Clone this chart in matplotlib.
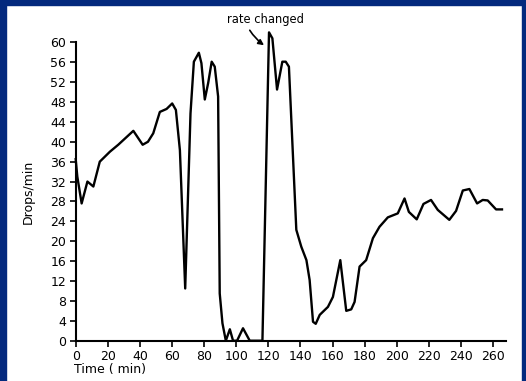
import matplotlib.pyplot as plt
from matplotlib.patches import Rectangle

# values
time_min = [0, 1, 3.7, 7.3, 11, 15, 21.3, 26.5, 35.9, 41.7, 45, 48.3, 52.4,
            56.6, 60.1, 62.4, 64.9, 68.2, 71.5, 73.6, 76.7, 78.3, 80.4, 82.5,
            84.7, 86.6, 88.7, 89.7, 91.4, 93.5, 96, 98, 100.5, 104.2, 108.4,
            116.3, 120.4, 122.5, 125.4, 128.7, 130.8, 132.8, 137.4, 140.5,
            143.7, 145.7, 147.8, 149.5, 152, 157.1, 160.2, 164.8, 168.5,
            171.6, 173.7, 176.8, 180.9, 185.1, 189.2, 194.4, 200.6, 204.8,
            207.5, 212.4, 216.6, 221.3, 225.5, 232.7, 236.9, 241.1, 245.2,
            250, 253.5, 256.6, 261.8, 265.5]
drops = [36.5, 33, 27.6, 32, 31, 36, 38, 39.4, 42.2, 39.4, 40, 41.7, 46,
         46.6, 47.7, 46.4, 38.3, 10.5, 45.7, 56.1, 57.9, 55.8, 48.5, 51.8,
         56.1, 55.1, 49.1, 9.5, 3.5, 0, 2.3, 0, 0, 2.5, 0,
         0, 62, 60.8, 50.5, 56.1, 56.1, 55.1, 22.3, 18.9,
         16.2, 12.2, 3.8, 3.4, 5.2, 6.8, 8.8, 16.2, 6,
         6.3, 7.8, 14.9, 16.2, 20.6, 22.9, 24.8, 25.6, 28.6,
         25.9, 24.4, 27.5, 28.3, 26.3, 24.3, 26.1, 30.2, 30.5,
         27.6, 28.3, 28.2, 26.4, 26.4]

x_ticks = list(range(0, 261, 20))
y_ticks = list(range(0, 61, 4))

W, H = 526, 381
fig = plt.figure(figsize=(W / 100, H / 100), dpi=100)
fig.patch.set_facecolor('white')

# dark blue frame of the slide
blue = '#03297d'
fig.patches.append(Rectangle((0, 0), 6 / W, 1, transform=fig.transFigure,
                             color=blue, zorder=-1))
fig.patches.append(Rectangle((0, 1 - 5 / H), 1, 5 / H, transform=fig.transFigure,
                             color=blue, zorder=-1))
fig.patches.append(Rectangle((1 - 4 / W, 0), 4 / W, 1, transform=fig.transFigure,
                             color=blue, zorder=-1))

ax = fig.add_axes([75.7 / W, 40.3 / H, (506 - 75.7) / W, (340.7 - 42.3) / H])
ax.plot(time_min, drops, color='black', lw=1.7, clip_on=False,
        solid_joinstyle='round')

ax.set_xlim(0, 268)
ax.set_ylim(0, 60)
ax.set_xticks(x_ticks)
ax.set_yticks(y_ticks)
for s in ['top', 'right']:
    ax.spines[s].set_visible(False)
for s in ['left', 'bottom']:
    ax.spines[s].set_linewidth(1.5)
ax.spines['bottom'].set_bounds(0, 268)
ax.tick_params(direction='out', length=4, width=1.2, labelsize=9, pad=3)

ax.set_ylabel('Drops/min', fontsize=9, labelpad=11)
fig.text(74 / W, 1 - 369 / H, 'Time ( min)', fontsize=9, ha='left', va='center')

ax.text(118, 64.5, 'rate changed', fontsize=8.3, ha='center', va='center')
ax.annotate('', xy=(118.7, 59.1), xytext=(107.5, 62.9), annotation_clip=False,
            arrowprops=dict(arrowstyle='-|>', color='black', lw=1.2,
                            mutation_scale=8,
                            connectionstyle='arc3,rad=0.12'))

fig.savefig('out.png', dpi=100)
